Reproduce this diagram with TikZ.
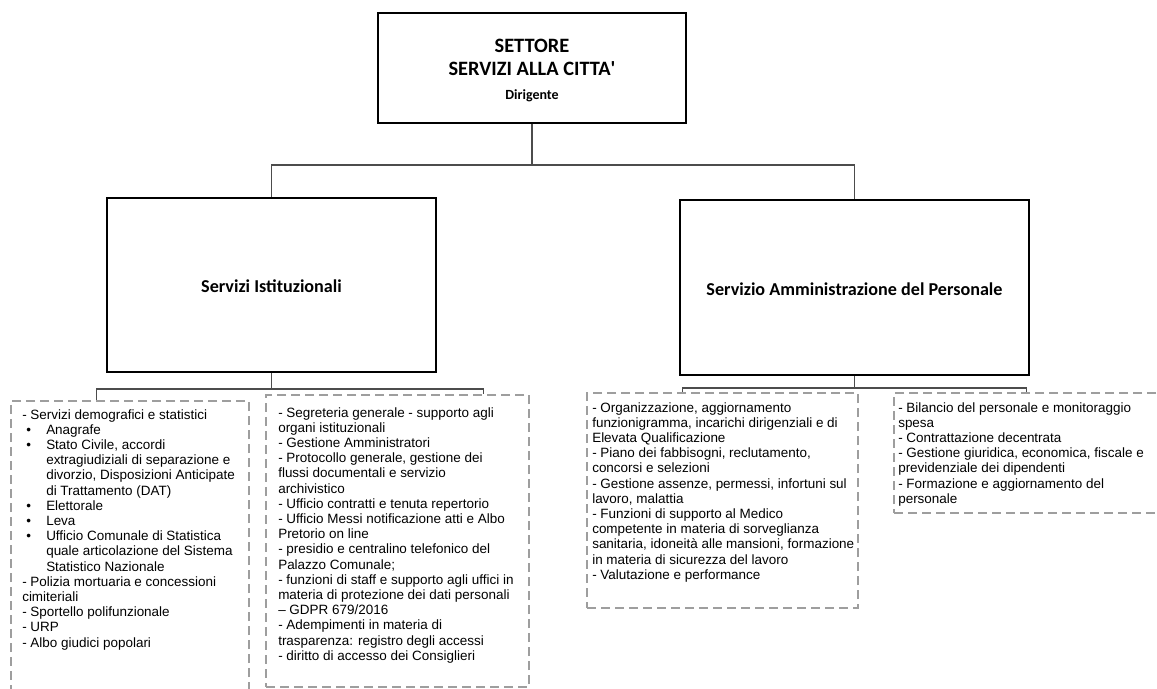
\documentclass[tikz,border=0pt]{standalone}
\usepackage{fontspec}
\setmainfont{Liberation Sans}
\newfontfamily\calibri{Carlito}
\usepackage{tikz}
\usetikzlibrary{positioning, fit, calc}

\newcommand{\blt}[1]{\hspace*{3pt}\makebox[15pt][l]{\textbullet}#1}
\newcommand{\ind}{\hspace*{18pt}}

\begin{document}
\begin{tikzpicture}[x=0.75pt, y=-0.75pt]
\tikzset{
  unitbox/.style={draw=black, line width=1.2pt, inner sep=0pt},
  unitname/.style={font=\calibri\bfseries\fontsize{13.6}{15}\selectfont, align=center},
  frame/.style={draw=black!38, line width=1.4pt, dash pattern=on 6.5pt off 4pt, inner sep=0pt},
  body/.style={font=\fontsize{10.1}{11.4}\selectfont, align=left, inner sep=0pt, anchor=north west},
  link/.style={draw=black!70, line width=0.8pt},
}
\useasboundingbox (0,0) rectangle (1157,689);

% settore
\node[unitbox, line width=1pt, fit={(378,13) (686,123)}] (sett) {};
\node[unitname, font=\calibri\bfseries\fontsize{15.3}{17.5}\selectfont]
  (settlbl) at ([yshift=-1.8pt]sett.center)
  {SETTORE\\SERVIZI ALLA CITTA\textquotesingle\\[0.5pt]\fontsize{10.5}{12}\selectfont Dirigente};

% servizi
\node[unitbox, fit={(107,198) (436,372)}] (istit) {};
\node[unitname] (istitlbl) at ([yshift=-1pt]istit.center) {Servizi Istituzionali};
\node[unitbox, fit={(680,200) (1029,375)}] (pers) {};
\node[unitname] (perslbl) at ([yshift=-1pt]pers.center) {Servizio Amministrazione del Personale};

% riquadri funzioni
\node[frame, fit={(11,401) (249,705)}] (fdemo) {};
\node[frame, fit={(266,395) (529,687)}] (fsegr) {};
\node[frame, fit={(587,393) (858,608)}] (forg) {};
\node[frame, fit={(894,393) (1175,513)}] (fbil) {};

% collegamenti
\coordinate (jtop) at (532,165);
\coordinate (jist) at (271.5,389);
\coordinate (jper) at (854.5,388);
\draw[link] (sett) -- (jtop);
\draw[link] (jtop) -| (istit);
\draw[link] (jtop) -| (pers);
\draw[link] (istit) -- (jist);
\draw[link] (jist) -| ($(fdemo.north west)!.36!(fdemo.north east)$);
\draw[link] (jist) -| ($(fsegr.north west)!.825!(fsegr.north east)$);
\draw[link] (pers) -- (jper);
\draw[link] (jper) -| ($(forg.north west)!.354!(forg.north east)$);
\draw[link] (jper) -| ($(fbil.north west)!.473!(fbil.north east)$);

% testi
\node[body] (tdemo) at (22,409) {- Servizi demografici e statistici\\
\blt{Anagrafe}\\
\blt{Stato Civile, accordi}\\
\ind extragiudiziali di separazione e\\
\ind divorzio, Disposizioni Anticipate\\
\ind di Trattamento (DAT)\\
\blt{Elettorale}\\
\blt{Leva}\\
\blt{Ufficio Comunale di Statistica}\\
\ind quale articolazione del Sistema\\
\ind Statistico Nazionale\\
- Polizia mortuaria e concessioni\\
cimiteriali\\
- Sportello polifunzionale\\
- URP\\
- Albo giudici popolari};

\node[body] (tsegr) at (278,407) {- Segreteria generale - supporto agli\\
organi istituzionali\\
- Gestione Amministratori\\
- Protocollo generale, gestione dei\\
flussi documentali e servizio\\
archivistico\\
- Ufficio contratti e tenuta repertorio\\
- Ufficio Messi notificazione atti e Albo\\
Pretorio on line\\
- presidio e centralino telefonico del\\
Palazzo Comunale;\\
- funzioni di staff e supporto agli uffici in\\
materia di protezione dei dati personali\\
– GDPR 679/2016\\
- Adempimenti in materia di\\
trasparenza: registro degli accessi\\
- diritto di accesso dei Consiglieri};

\node[body] (torg) at (592,402) {- Organizzazione, aggiornamento\\
funzionigramma, incarichi dirigenziali e di\\
Elevata Qualificazione\\
- Piano dei fabbisogni, reclutamento,\\
concorsi e selezioni\\
- Gestione assenze, permessi, infortuni sul\\
lavoro, malattia\\
- Funzioni di supporto al Medico\\
competente in materia di sorveglianza\\
sanitaria, idoneità alle mansioni, formazione\\
in materia di sicurezza del lavoro\\
- Valutazione e performance};

\node[body] (tbil) at (898,402) {- Bilancio del personale e monitoraggio\\
spesa\\
- Contrattazione decentrata\\
- Gestione giuridica, economica, fiscale e\\
previdenziale dei dipendenti\\
- Formazione e aggiornamento del\\
personale};
\end{tikzpicture}
\end{document}
